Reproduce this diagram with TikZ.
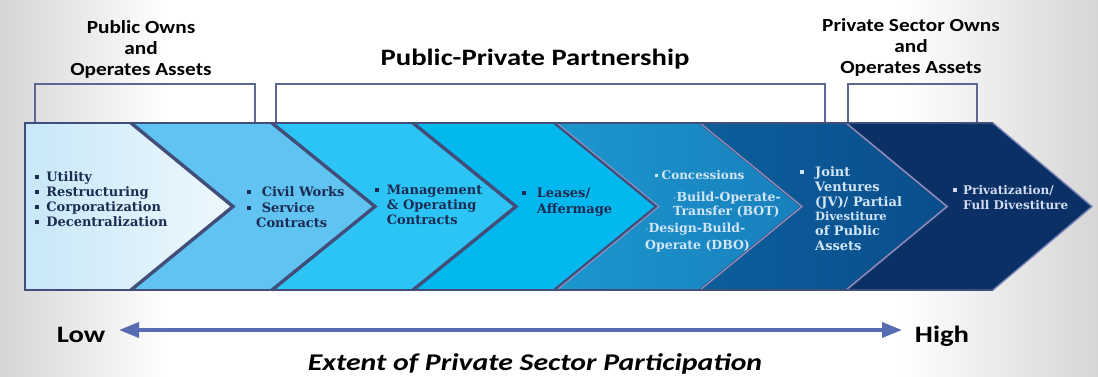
\documentclass[tikz,border=0pt]{standalone}
\usepackage{fontspec}
\setmainfont{DejaVu Serif}
\newfontfamily\headfont{Carlito}
\usetikzlibrary{arrows.meta}
\definecolor{cA}{RGB}{200,231,248}
\definecolor{cAr}{RGB}{238,248,253}
\definecolor{cB}{RGB}{96,195,241}
\definecolor{cC}{RGB}{44,196,244}
\definecolor{cD}{RGB}{2,184,238}
\definecolor{cE}{RGB}{28,150,206}
\definecolor{cEr}{RGB}{24,128,188}
\definecolor{cF}{RGB}{13,94,156}
\definecolor{cFr}{RGB}{10,78,140}
\definecolor{cG}{RGB}{11,48,102}
\definecolor{edgedark}{RGB}{66,78,122}
\definecolor{edgelight}{RGB}{140,152,206}
\definecolor{brk}{RGB}{92,104,148}
\definecolor{navytxt}{RGB}{28,43,82}
\definecolor{lighttxt}{RGB}{210,229,245}
\definecolor{axisblue}{RGB}{88,108,180}
\definecolor{vig}{RGB}{214,214,214}
\newcommand\bul{\rule[2.5pt]{3.6pt}{3.6pt}}
\newcommand\hsx[2]{\scalebox{#1}[1]{#2}}
\begin{document}
\begin{tikzpicture}[x=1pt,y=-1pt,
  chevtxt/.style={anchor=base west, align=left, inner sep=0pt, text=navytxt,
    font=\fontsize{13}{15}\selectfont\bfseries},
  chevlight/.style={chevtxt, text=lighttxt},
  headtxt/.style={align=center, inner sep=0pt, text=black,
    font=\headfont\fontsize{18.5}{21}\selectfont\bfseries},
  bigtxt/.style={inner sep=0pt, anchor=base, text=black,
    font=\headfont\fontsize{23.5}{26}\selectfont\bfseries},
  bracketline/.style={draw=brk, line width=2.5pt, line join=miter},
  bounddark/.style={draw=edgedark, line width=3.4pt, line join=miter},
  boundlight/.style={draw=edgelight, line width=1.1pt, line join=miter},
  bandedge/.style={draw=edgedark, line width=2.4pt, line join=miter},
  axis/.style={draw=axisblue, line width=3.6pt,
    {Triangle[length=20pt,width=15pt]}-{Triangle[length=20pt,width=15pt]}}
]
\useasboundingbox (0,0) rectangle (1098,376);
% background vignette
\fill[white] (0,0) rectangle (1098,376);
\shade[left color=vig, right color=white] (0,0) rectangle (170,376);
\shade[left color=white, right color=vig] (900,0) rectangle (1098,376);
% brackets
\draw[bracketline] (35,123) -- (35,84) -- (255,84) -- (255,123);
\draw[bracketline] (276,123) -- (276,84) -- (825,84) -- (825,123);
\draw[bracketline] (848,123) -- (848,84) -- (977,84) -- (977,123);
% chevron fills
\shade[left color=cA, right color=cAr] (25,123)--(131,123)--(233,206.5)--(131,290)--(25,290)--cycle;
\fill[cB] (131,123)--(272,123)--(375,206.5)--(272,290)--(131,290)--(233,206.5)--cycle;
\fill[cC] (272,123)--(413,123)--(516,206.5)--(413,290)--(272,290)--(375,206.5)--cycle;
\fill[cD] (413,123)--(555,123)--(657,206.5)--(555,290)--(413,290)--(516,206.5)--cycle;
\shade[left color=cE, right color=cEr] (555,123)--(700,123)--(802,206.5)--(700,290)--(555,290)--(657,206.5)--cycle;
\shade[left color=cF, right color=cFr] (700,123)--(846,123)--(947,206.5)--(846,290)--(700,290)--(802,206.5)--cycle;
\fill[cG] (846,123)--(993,123)--(1092,206.5)--(993,290)--(846,290)--(947,206.5)--cycle;
% boundaries
\draw[bounddark] (131,123)--(233,206.5)--(131,290);
\draw[bounddark] (272,123)--(375,206.5)--(272,290);
\draw[bounddark] (413,123)--(516,206.5)--(413,290);
\draw[bounddark] (555,123)--(657,206.5)--(555,290);
\draw[boundlight] (557,123)--(659,206.5)--(557,290);
\draw[bounddark, line width=2.4pt] (700,123)--(802,206.5)--(700,290);
\draw[boundlight] (700,123)--(802,206.5)--(700,290);
\draw[bounddark, line width=2.4pt] (846,123)--(947,206.5)--(846,290);
\draw[boundlight] (846,123)--(947,206.5)--(846,290);
% outer edge
\draw[bandedge] (993,123) -- (25,123) -- (25,290) -- (993,290);
\draw[draw=edgelight!70!edgedark, line width=1.4pt] (993,123)--(1092,206.5)--(993,290);
% chevron texts (anchor = baseline of the last line)
\node[chevtxt] (c1) at (35,226.5) {\bul\hspace{7.5pt}Utility\\\bul\hspace{7.5pt}Restructuring\\\bul\hspace{7.5pt}Corporatization\\\bul\hspace{7.5pt}Decentralization};
\node[chevtxt, font=\fontsize{13}{15.5}\selectfont\bfseries] (c2) at (247,227.5) {\bul\hspace{11pt}Civil Works\\\bul\hspace{11pt}Service\\\hspace{9pt}Contracts};
\node[chevtxt] (c3) at (375,224.5) {\bul\hspace{8pt}Management\\\hspace{11.6pt}\&~Operating\\\hspace{11.6pt}Contracts};
\node[chevtxt, font=\fontsize{13}{16}\selectfont\bfseries] (c4) at (522,213.5) {\bul\hspace{11pt}Leases/\\\hspace{14.6pt}Affermage};
\node[chevlight, font=\fontsize{12}{14}\selectfont\bfseries] (c5a) at (655,179.5) {\rule[2.5pt]{3pt}{3pt}\hspace{3.5pt}Concessions};
\node[chevlight, font=\fontsize{12.5}{13.5}\selectfont\bfseries] (c5b) at (673,215) {$\cdot$Build-Operate-\\Transfer (BOT)};
\node[chevlight, font=\fontsize{12.5}{17}\selectfont\bfseries] (c5c) at (645,249.5) {$\cdot$Design-Build-\\Operate (DBO)};
\node[chevlight, font=\fontsize{13}{14.8}\selectfont\bfseries] (c6) at (800,250.5) {\bul\hspace{11.4pt}Joint\\\hspace{15pt}Ventures\\\hspace{15pt}(JV)/ Partial\\\hspace{15pt}{\fontsize{11.5}{14.8}\selectfont Divestiture}\\\hspace{15pt}of Public\\\hspace{15pt}Assets};
\node[chevlight, text={rgb,255:red,210;green,218;blue,240}, font=\fontsize{12}{15}\selectfont\bfseries] (c7) at (953,209.5) {\bul\hspace{6.4pt}Privatization/\\\hspace{10pt}Full~Divestiture};
% headings
\node[headtxt] (pubown) at (141,49) {\hsx{1.15}{Public Owns}\\\hsx{1.15}{and}\\\hsx{1.15}{Operates Assets}};
\node[headtxt] (privown) at (911,47) {\hsx{1.15}{Private Sector Owns}\\\hsx{1.15}{and}\\\hsx{1.15}{Operates Assets}};
\node[bigtxt] (ppp) at (535,65.5) {\hsx{1.22}{Public-Private Partnership}};
% axis
\node[bigtxt] (low) at (81,342.5) {\hsx{1.22}{Low}};
\node[bigtxt] (high) at (942,342.5) {\hsx{1.22}{High}};
\coordinate (arrL) at (119,330);
\coordinate (arrR) at (902,330);
\draw[axis] (arrL) -- (arrR);
\node[bigtxt, font=\headfont\fontsize{24}{26}\selectfont\bfseries\itshape] (extent) at (535,370) {\hsx{1.24}{Extent of Private Sector Participation}};
\end{tikzpicture}
\end{document}
